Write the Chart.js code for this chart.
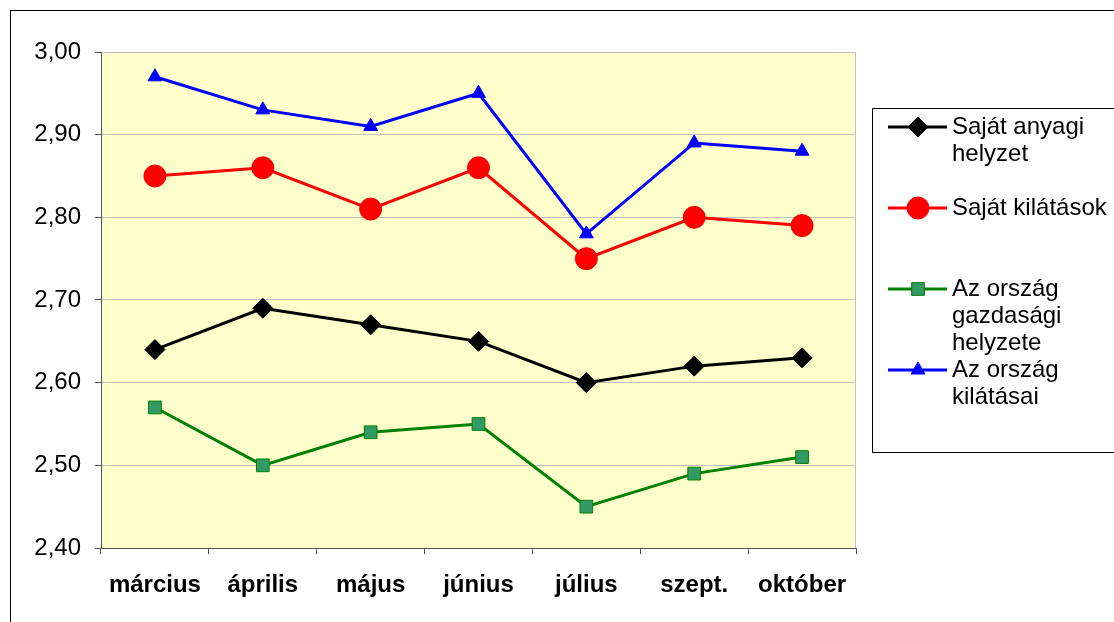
<!DOCTYPE html>
<html>
<head>
<meta charset="utf-8">
<script src="https://cdn.jsdelivr.net/npm/chart.js@4/dist/chart.umd.min.js"></script>
<style>
  html, body { margin: 0; padding: 0; background: #fff; }
  #wrap { width: 1114px; height: 622px; }
</style>
</head>
<body>
<div id="wrap"><canvas id="chart" width="1114" height="622"></canvas></div>
<script>
let months = ['március', 'április', 'május', 'június', 'július', 'szept.', 'október'];
let sajatAnyagi = [2.64, 2.69, 2.67, 2.65, 2.60, 2.62, 2.63];
let sajatKilatasok = [2.85, 2.86, 2.81, 2.86, 2.75, 2.80, 2.79];
let orszagGazdasagi = [2.57, 2.50, 2.54, 2.55, 2.45, 2.49, 2.51];
let orszagKilatasai = [2.97, 2.93, 2.91, 2.95, 2.78, 2.89, 2.88];
let seriesNames = ['Saját anyagi helyzet', 'Saját kilátások', 'Az ország gazdasági helyzete', 'Az ország kilátásai'];

let font = '"Liberation Sans", Arial, sans-serif';

// yellow plot background + outer frame
let frame = {
  id: 'frame',
  beforeDraw(chart) {
    let ctx = chart.ctx;
    let a = chart.chartArea;
    ctx.save();
    ctx.fillStyle = '#fff';
    ctx.fillRect(0, 0, chart.width, chart.height);
    ctx.strokeStyle = '#000';
    ctx.lineWidth = 1;
    ctx.strokeRect(10.5, 10.5, 1200, 800);
    ctx.fillStyle = '#ffffcc';
    ctx.fillRect(a.left, a.top, a.right - a.left, a.bottom - a.top);
    ctx.strokeStyle = '#c0c0c0';
    ctx.beginPath();
    ctx.moveTo(a.left, a.top + 0.5);
    ctx.lineTo(a.right - 0.5, a.top + 0.5);
    ctx.lineTo(a.right - 0.5, a.bottom);
    ctx.stroke();
    ctx.restore();
  }
};

// legend box on the right, text wrapped like the original
let sideLegend = {
  id: 'sideLegend',
  afterDraw(chart) {
    let ctx = chart.ctx;
    ctx.save();
    ctx.strokeStyle = '#000';
    ctx.lineWidth = 1;
    ctx.strokeRect(872.5, 108.5, 400, 344);
    ctx.font = '24px ' + font;
    ctx.textBaseline = 'middle';
    let y = 127;
    chart.data.datasets.forEach(ds => {
      let words = ds.label.split(' ');
      let lines = [];
      let cur = '';
      words.forEach(w => {
        let t = cur ? cur + ' ' + w : w;
        if (ctx.measureText(t).width > 165 && cur) {
          lines.push(cur);
          cur = w;
        } else cur = t;
      });
      lines.push(cur);

      ctx.strokeStyle = ds.borderColor;
      ctx.lineWidth = 3;
      ctx.beginPath();
      ctx.moveTo(888, y);
      ctx.lineTo(947, y);
      ctx.stroke();

      ctx.fillStyle = ds.pointBackgroundColor;
      ctx.strokeStyle = ds.pointBorderColor;
      ctx.lineWidth = ds.pointBorderWidth;
      Chart.helpers.drawPoint(ctx, {
        pointStyle: ds.pointStyle,
        radius: ds.pointRadius,
        borderWidth: ds.pointBorderWidth,
        rotation: 0
      }, 918, y);

      ctx.fillStyle = '#000';
      lines.forEach((l, i) => ctx.fillText(l, 952, y + i * 27));
      y += 81;
    });
    ctx.restore();
  }
};

function series(label, data, color, style, radius, fill, border) {
  return {
    label: label,
    data: data,
    borderColor: color,
    borderWidth: 3,
    pointStyle: style,
    pointRadius: radius,
    pointHoverRadius: radius,
    pointBackgroundColor: fill,
    pointBorderColor: border,
    pointBorderWidth: 1,
    tension: 0
  };
}

new Chart(document.getElementById('chart'), {
  type: 'line',
  data: {
    labels: months,
    datasets: [
      series(seriesNames[0], sajatAnyagi, '#000000', 'rectRot', 10, '#000000', '#000000'),
      series(seriesNames[1], sajatKilatasok, '#ff0000', 'circle', 11, '#ff0000', '#ff0000'),
      series(seriesNames[2], orszagGazdasagi, '#008000', 'rect', 9, '#339966', '#008000'),
      series(seriesNames[3], orszagKilatasai, '#0000ff', 'triangle', 8, '#0000ff', '#0000ff')
    ]
  },
  options: {
    responsive: false,
    animation: false,
    layout: { padding: { left: 10, top: 52, right: 258, bottom: 0 } },
    plugins: { legend: { display: false }, tooltip: { enabled: false } },
    scales: {
      x: {
        offset: true,
        afterFit(s) { s.height = 74; },
        grid: { offset: true, drawOnChartArea: false, tickLength: 6, tickColor: '#555', color: '#555' },
        border: { color: '#555', width: 1 },
        ticks: { color: '#000', padding: 17, font: { family: font, size: 24, weight: 'bold' } }
      },
      y: {
        min: 2.4,
        max: 3.0,
        afterFit(s) { s.width = 91; },
        afterBuildTicks(s) {
          let t = [];
          for (let i = 0; i <= 6; i++) t.push({ value: Math.round((2.4 + i * 0.1) * 100) / 100 });
          s.ticks = t;
        },
        grid: { color: '#c0c0c0', tickLength: 6, tickColor: '#555' },
        border: { color: '#555', width: 1 },
        ticks: {
          color: '#000',
          padding: 14,
          font: { family: font, size: 24 },
          callback: v => v.toFixed(2).replace('.', ',')
        }
      }
    }
  },
  plugins: [frame, sideLegend]
});
</script>
</body>
</html>
